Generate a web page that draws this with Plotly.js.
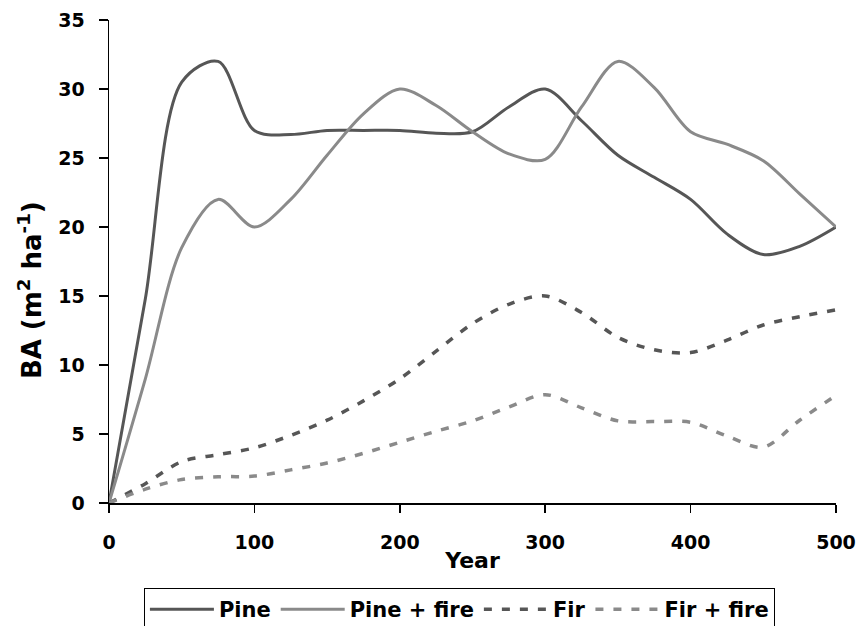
<!DOCTYPE html>
<html>
<head>
<meta charset="utf-8">
<script src="https://cdn.plot.ly/plotly-3.0.1.min.js"></script>
<style>
  html, body { margin: 0; padding: 0; background: #fff; }
  #chart { width: 857px; height: 626px; }
</style>
</head>
<body>
<div id="chart"></div>
<script>
// Basal area over a 500-year simulation, with and without fire
const years = [0, 25, 50, 75, 100, 125, 150, 175, 200, 225, 250, 275, 300, 325, 350, 375, 400, 425, 450, 475, 500];

const pine      = [0, 14.8, 30.5, 32, 27, 26.7, 27, 27, 27, 26.8, 26.9, 28.7, 30, 27.7, 25.2, 23.6, 22, 19.5, 18, 18.6, 20];
const pineFire  = [0, 9, 18.5, 22, 20, 22, 25.2, 28.2, 30, 28.8, 26.9, 25.3, 24.9, 28.7, 32, 30.1, 26.9, 26, 24.8, 22.4, 20];
const fir       = [0, 1.4, 3, 3.5, 4, 4.9, 6, 7.4, 9, 11, 13, 14.4, 15, 13.8, 12, 11.1, 10.9, 11.8, 12.9, 13.5, 14];
const firFire   = [0, 1.0, 1.7, 1.9, 1.95, 2.4, 2.9, 3.6, 4.4, 5.2, 5.95, 6.95, 7.85, 6.9, 5.95, 5.9, 5.85, 4.85, 4.05, 6.0, 7.8];

const seriesNames = ['Pine', 'Pine + fire', 'Fir', 'Fir + fire'];
const xTicks = [0, 100, 200, 300, 400, 500];
const yTicks = [0, 5, 10, 15, 20, 25, 30, 35];
const xTitle = 'Year';
const yTitle = 'BA (m<sup>2</sup> ha<sup>-1</sup>)';

const DARK = '#565656';
const LIGHT = '#8a8a8a';
const DASH = '8px,10px';
const FONT = 'DejaVu Sans, Verdana, sans-serif';

function trace(name, y, color, dash, width) {
  return {
    x: years, y: y, name: name, type: 'scatter', mode: 'lines',
    line: { color: color, width: width, shape: 'spline', smoothing: 0.9, dash: dash },
    hoverinfo: 'skip'
  };
}

const data = [
  trace(seriesNames[0], pine, DARK, 'solid', 3),
  trace(seriesNames[1], pineFire, LIGHT, 'solid', 3),
  trace(seriesNames[2], fir, DARK, DASH, 3.5),
  trace(seriesNames[3], firFire, LIGHT, DASH, 3.5)
];

const tickFont = { family: FONT, size: 19, color: '#000', weight: 'bold' };

const layout = {
  width: 857, height: 626,
  paper_bgcolor: '#fff', plot_bgcolor: '#fff',
  margin: { l: 109, r: 21, t: 20, b: 123, autoexpand: false },
  showlegend: true,
  legend: {
    orientation: 'h', x: 0.482, xanchor: 'center', y: -0.176, yanchor: 'top',
    bordercolor: '#000', borderwidth: 1, bgcolor: '#fff',
    font: { family: FONT, size: 21, color: '#000', weight: 'bold' },
    itemwidth: 64, tracegroupgap: 0
  },
  xaxis: {
    range: [0, 500], tickvals: xTicks, ticktext: xTicks.map(String),
    showgrid: false, zeroline: false, showline: true, linecolor: '#000', linewidth: 1.5,
    ticks: 'outside', ticklen: 8, tickwidth: 1.5, tickcolor: '#000',
    tickfont: tickFont, ticklabelstandoff: 14, fixedrange: true,
    title: { text: xTitle, font: { family: FONT, size: 22, color: '#000', weight: 'bold' }, standoff: 0 }
  },
  yaxis: {
    range: [0, 35], tickvals: yTicks, ticktext: yTicks.map(String),
    showgrid: false, zeroline: false, showline: true, linecolor: '#000', linewidth: 1.5,
    ticks: 'outside', ticklen: 9, tickwidth: 1.5, tickcolor: '#000',
    tickfont: tickFont, ticklabelstandoff: 10, fixedrange: true
  },
  // y-axis title placed slightly below the plot's mid-height
  annotations: [{
    text: yTitle, textangle: -90, showarrow: false,
    xref: 'paper', yref: 'paper', x: -0.1085, y: 0.441,
    xanchor: 'center', yanchor: 'middle',
    font: { family: FONT, size: 26, color: '#000', weight: 'bold' }
  }]
};

Plotly.newPlot('chart', data, layout, { staticPlot: true, displayModeBar: false });
</script>
</body>
</html>
